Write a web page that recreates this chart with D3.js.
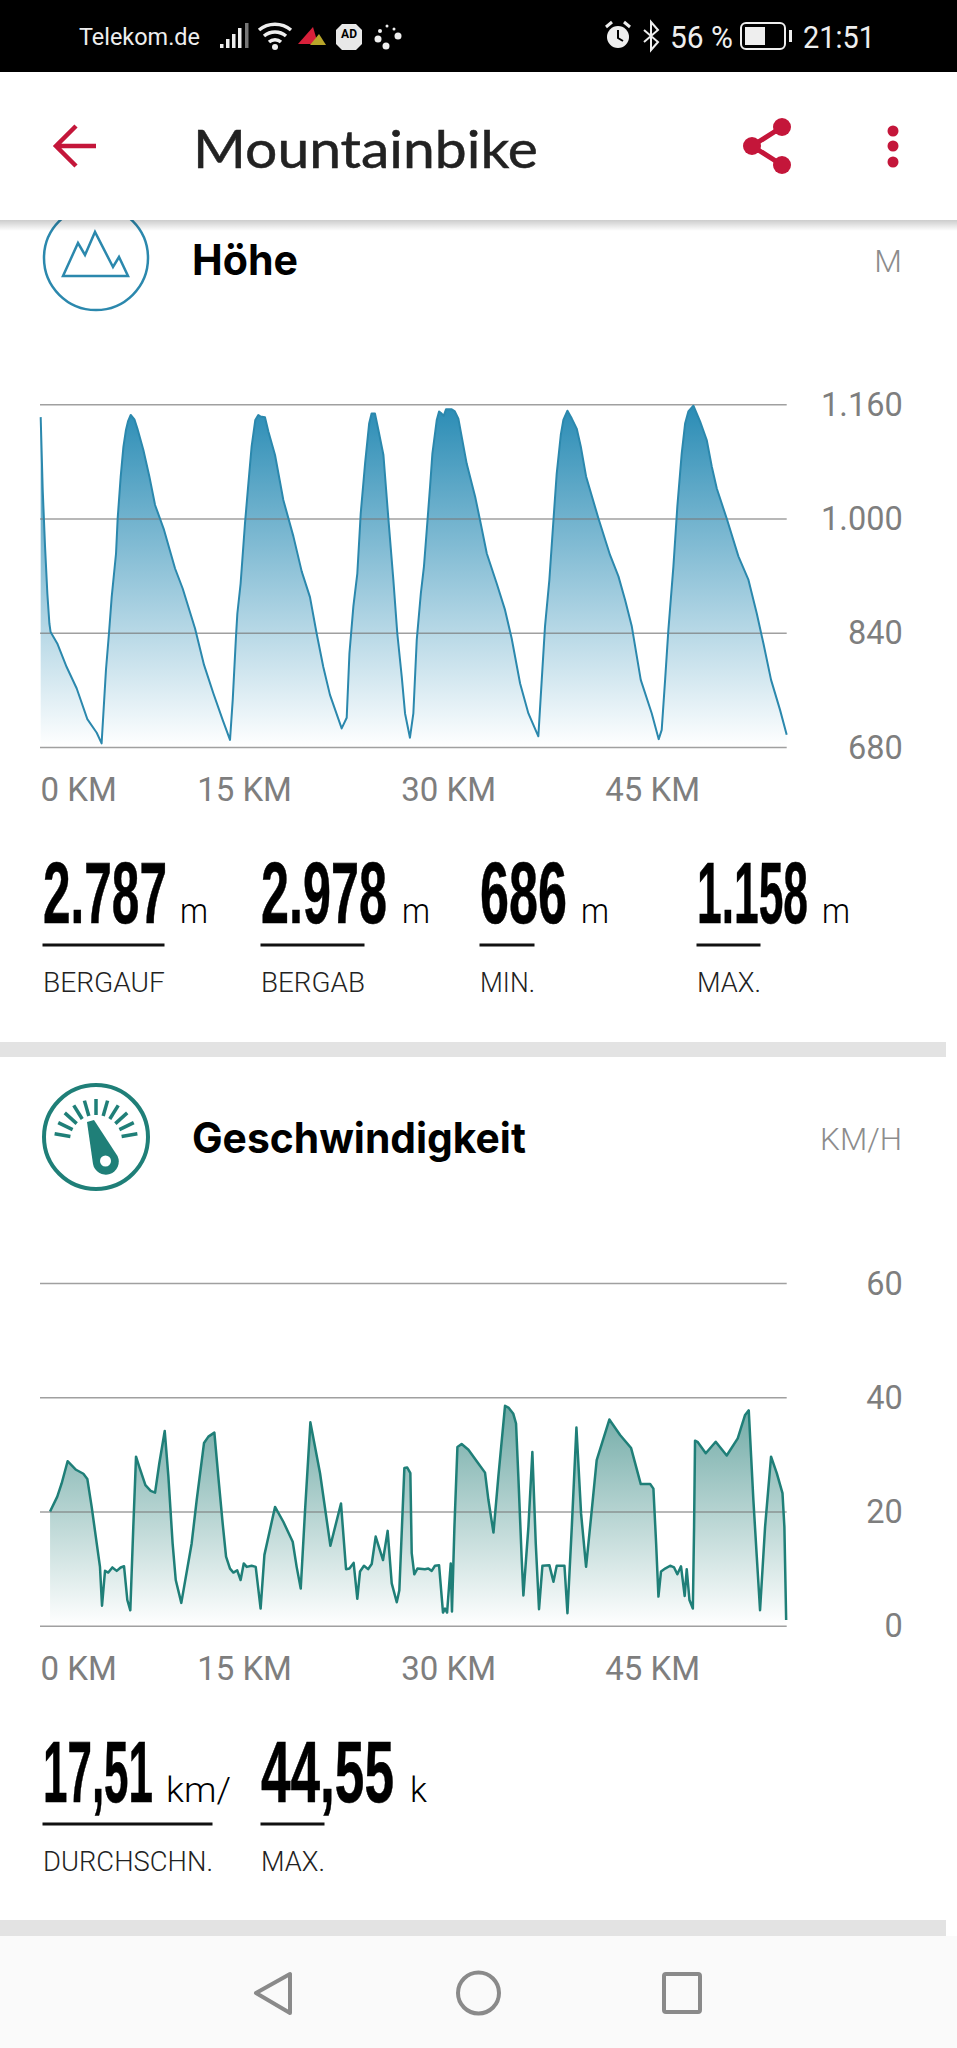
<!DOCTYPE html>
<html>
<head>
<meta charset="utf-8">
<script src="https://cdn.jsdelivr.net/npm/d3@7"></script>
<style>
body { margin: 0; background: #fff; }
svg { display: block; }
</style>
</head>
<body>
<svg width="957" height="2048"></svg>
<script>
// elevation profile
var altKm = [0.05,0.2,0.37,0.54,0.69,0.78,1.27,1.96,2.7,3.48,4.17,4.53,4.85,5.07,5.27,5.59,5.71,5.93,6.13,6.32,6.47,6.67,6.94,7.16,7.6,8.04,8.46,9.12,9.93,10.49,11.4,12.06,12.75,13.43,13.97,14.17,14.41,14.51,14.75,15.07,15.32,15.56,15.83,16.05,16.2,16.54,16.79,17.28,17.89,18.63,19.24,19.85,20.34,20.83,21.32,22.18,22.55,22.75,23.04,23.33,23.58,23.9,24.2,24.38,24.63,24.88,25.25,25.6,25.98,26.27,26.6,26.84,27.2,27.45,27.7,28,28.23,28.5,28.68,28.85,29.17,29.34,29.53,29.68,29.85,30.27,30.5,30.76,31.37,31.99,32.35,32.85,33.58,34.19,34.68,35.3,35.91,36.64,36.89,37.13,37.45,37.7,37.99,38.29,38.48,38.78,39.1,39.46,39.76,40.15,41.06,41.91,42.53,43.02,43.51,44.17,44.98,45.49,45.71,45.96,46.2,46.57,46.86,47.18,47.43,47.67,48.04,48.53,49.02,49.39,49.76,50.49,51.35,52.09,52.7,53.19,53.75,54.41,54.9];
var altM = [1142,1040,961,895,853,841,825,792,762,719,700,685,788,839,890,951,1000,1058,1100,1124,1136,1145,1139,1126,1096,1059,1019,984,930,902,846,795,755,718,690,746,835,867,909,993,1049,1101,1138,1145,1143,1142,1122,1089,1026,975,926,890,839,792,753,706,721,811,877,923,1007,1077,1133,1147,1147,1124,1089,1003,914,839,778,727,693,727,830,895,933,1000,1045,1091,1138,1150,1147,1144,1153,1153,1150,1140,1077,1031,998,951,909,872,832,769,727,695,774,849,914,984,1063,1117,1138,1151,1140,1126,1101,1059,1000,949,919,886,849,774,727,691,704,774,844,933,1017,1091,1133,1150,1158,1136,1110,1073,1042,1000,947,914,867,825,774,732,697];
var altTicks = [680,840,1000,1160];
var altTickLabels = ['680','840','1.000','1.160'];

// speed profile
var speedKm = [0.74,1.27,1.59,2.03,2.65,3.19,3.48,3.8,4.17,4.41,4.56,4.78,5.02,5.32,5.64,5.93,6.18,6.42,6.64,6.86,7.06,7.3,7.75,8.14,8.46,8.77,9.17,9.44,9.75,9.98,10.39,11.15,11.52,12.06,12.38,12.82,13.11,13.43,13.68,13.97,14.22,14.5,14.75,14.98,15.2,15.56,15.86,16.22,16.5,17.28,17.89,18.58,18.87,19.17,19.49,19.88,20.59,21.35,22.13,22.5,22.75,23.06,23.33,23.53,23.82,24.12,24.39,24.68,25.22,25.56,25.86,26.23,26.42,26.79,27,27.23,27.33,27.52,27.75,28.3,28.55,28.8,29.04,29.34,29.63,29.78,29.93,30.2,30.29,30.47,30.69,31,31.5,32.23,32.72,32.97,33.34,33.7,34.19,34.44,34.8,35,35.17,35.42,35.54,35.91,36.2,36.45,36.69,36.94,37.45,37.75,37.99,38.56,38.78,39.1,39.44,39.78,40.15,40.57,40.93,41.86,42.65,43.46,44.17,44.86,45.1,45.3,45.47,45.66,45.96,46.33,46.62,46.86,47.13,47.4,47.55,47.75,48,48.09,48.16,48.34,48.95,49.68,50.49,51.3,51.84,52.11,52.45,52.7,52.94,53.31,53.75,54.17,54.59,54.73,54.86];
var speedVal = [20,22.6,24.9,28.8,27.3,26.6,25.7,20.8,14.4,10.3,3.5,9.6,9.3,10.2,9.6,10.2,10.4,4.5,2.7,17.3,29.6,27.8,24.6,23.6,23.3,28.4,34.1,26.1,14.4,8,4,14.4,22,32,33.1,33.8,26.1,17.9,12.1,10,9.3,9.7,8,10.9,10.3,10.5,10.3,3,12.4,20.8,18.2,14.7,10.3,6.5,20.3,35.6,26.7,14,21.4,9.9,10,11,4.7,9.5,10.5,9.9,10.8,15.6,11.5,16.6,7.4,4.1,6.2,27.6,27.7,26.7,12.7,9,10,9.9,10,9.6,10.5,10.6,2.3,3,2.3,10.9,2.5,17.3,31.3,31.8,30.8,28.4,26.8,22,16.3,26.1,38.5,38.2,37.1,35.4,26.1,11.5,5.3,17.3,30.4,14.4,2.9,10.5,10.6,7.7,10.5,10.5,2.2,17.3,34.7,19.7,10.3,20.3,29,36.1,33.4,31.1,24.8,24.8,24,14.4,5.1,9.5,10,10.5,10.2,9,10.4,5.2,9.9,4.5,3,17.3,32.4,32.2,30.2,32.2,29.8,32.8,36.9,37.7,22,12.1,2.7,17.3,29.6,26.7,23.2,17.3,1];
var speedTicks = [0,20,40,60];

var kmTicks = [0,15,30,45];
var totalKm = 54.9;

var altStats = ['2.787','2.978','686','1.158'];
var altStatLabels = ['BERGAUF','BERGAB','MIN.','MAX.'];
var speedStats = ['17,51','44,55'];
var speedStatLabels = ['DURCHSCHN.','MAX.'];

var red = '#c4163a';
var blue = '#2b88ad';
var teal = '#1f7f78';
var grey = '#7e7e7e';

var svg = d3.select('svg');

// text helper, w squeezes the text to the measured width
function label(parent, x, y, str, size, opts) {
    opts = opts || {};
    var t = parent.append('text')
        .attr('transform', 'translate(' + x + ',' + y + ')')
        .attr('font-size', size)
        .attr('font-family', opts.font || 'Roboto, sans-serif')
        .attr('font-weight', opts.weight || 400)
        .attr('fill', opts.fill || '#000')
        .attr('text-anchor', opts.anchor || 'start')
        .text(str);
    if (opts.w) {
        var sx = opts.w / t.node().getComputedTextLength();
        t.attr('transform', 'translate(' + x + ',' + y + ') scale(' + sx + ',1)');
    }
    if (opts.stroke) t.attr('stroke', opts.fill || '#000').attr('stroke-width', opts.stroke);
    return t;
}

var x = d3.scaleLinear().domain([0, totalKm]).range([40, 786.7]);

function drawChart(id, kms, vals, domain, range, ticks, tickFormat, color, topColor, lineW) {
    var y = d3.scaleLinear().domain(domain).range(range);
    var data = d3.zip(kms, vals);

    var grad = svg.append('defs').append('linearGradient')
        .attr('id', id)
        .attr('gradientUnits', 'userSpaceOnUse')
        .attr('x1', 0).attr('x2', 0)
        .attr('y1', y(d3.max(vals))).attr('y2', range[0]);
    grad.append('stop').attr('offset', 0).attr('stop-color', topColor);
    grad.append('stop').attr('offset', 1).attr('stop-color', '#fff');

    var area = d3.area()
        .x(function(d) { return x(d[0]); })
        .y0(range[0])
        .y1(function(d) { return y(d[1]); });
    var line = d3.line()
        .x(function(d) { return x(d[0]); })
        .y(function(d) { return y(d[1]); });

    svg.append('path').datum(data).attr('d', area).attr('fill', 'url(#' + id + ')');

    // gridlines and right hand labels
    var yAxis = svg.append('g')
        .attr('transform', 'translate(' + x.range()[1] + ',0)')
        .call(d3.axisRight(y).tickValues(ticks).tickSize(-(x.range()[1] - x.range()[0])).tickFormat(tickFormat));
    yAxis.select('.domain').remove();
    yAxis.selectAll('line').attr('stroke', '#777').attr('stroke-opacity', 0.7).attr('stroke-width', 1.5);
    yAxis.selectAll('text')
        .attr('x', 116).attr('dy', '0.34em')
        .attr('text-anchor', 'end')
        .attr('font-family', 'Roboto, sans-serif')
        .attr('font-size', 32.5)
        .attr('fill', grey);

    svg.append('path').datum(data).attr('d', line)
        .attr('fill', 'none').attr('stroke', color).attr('stroke-width', lineW).attr('stroke-linejoin', 'round');

    // km labels under the plot
    var xAxis = svg.append('g')
        .attr('transform', 'translate(0,' + range[0] + ')')
        .call(d3.axisBottom(x).tickValues(kmTicks).tickSize(0).tickFormat(function(d) { return d + ' KM'; }));
    xAxis.select('.domain').remove();
    xAxis.selectAll('text')
        .attr('y', 54).attr('dy', 0)
        .attr('font-family', 'Roboto, sans-serif')
        .attr('font-size', 33)
        .attr('fill', grey)
        .attr('text-anchor', function(d) { return d === 0 ? 'start' : 'middle'; });
}

drawChart('altFill', altKm, altM, [680, 1160], [747, 404.3], altTicks,
    function(d) { return altTickLabels[altTicks.indexOf(d)]; }, blue, '#2a8cb5', 2);
drawChart('speedFill', speedKm, speedVal, [0, 60], [1625.7, 1283], speedTicks,
    function(d) { return d; }, teal, '#70aaa6', 2.5);

// stat blocks
var numFont = '"Liberation Sans Narrow", "Liberation Sans", sans-serif';
var altX = [43, 261, 480, 697];
var altW = [124, 126, 87, 111];
var altUnitX = [180, 402, 581, 822];
var altLabelW = [122, 104, 55, 64];
altStats.forEach(function(s, i) {
    label(svg, altX[i], 923, s, 87, {font: numFont, weight: 700, w: altW[i], stroke: 0.6});
    label(svg, altUnitX[i], 923, 'm', 35, {w: 28, weight: 300});
    svg.append('rect').attr('x', altX[i] - 0.5).attr('y', 943.5).attr('width', altLabelW[i]).attr('height', 3).attr('fill', '#111');
    label(svg, altX[i], 992, altStatLabels[i], 27, {w: altLabelW[i], fill: '#222', weight: 300});
});

var speedX = [43, 261];
var speedW = [110, 133];
var speedLabelW = [170, 64];
var speedUnits = ['km/', 'k'];
var speedUnitX = [166, 410];
var speedUnitW = [65, 17];
speedStats.forEach(function(s, i) {
    label(svg, speedX[i], 1802, s, 87, {font: numFont, weight: 700, w: speedW[i], stroke: 0.6});
    label(svg, speedUnitX[i], 1802, speedUnits[i], 35, {w: speedUnitW[i], weight: 300});
    svg.append('rect').attr('x', speedX[i] - 0.5).attr('y', 1822.5).attr('width', speedLabelW[i]).attr('height', 3).attr('fill', '#111');
    label(svg, speedX[i], 1871, speedStatLabels[i], 27, {w: speedLabelW[i], fill: '#222', weight: 300});
});

// grey section bands
svg.append('rect').attr('x', 0).attr('y', 1042).attr('width', 946).attr('height', 15).attr('fill', '#e3e3e3');
svg.append('rect').attr('x', 0).attr('y', 1920).attr('width', 946).attr('height', 16).attr('fill', '#e3e3e3');

// Hoehe section head
svg.append('circle').attr('cx', 96).attr('cy', 258).attr('r', 52)
    .attr('fill', 'none').attr('stroke', blue).attr('stroke-width', 2.5);
svg.append('path')
    .attr('d', 'M63 276 L78 243 L85 255 L95 232 L113 267 L119 257 L128 276 Z')
    .attr('fill', 'none').attr('stroke', blue).attr('stroke-width', 2.5);
label(svg, 192, 275, 'Höhe', 42, {font: 'Inter, sans-serif', weight: 700, w: 106});
label(svg, 902, 272, 'M', 32, {anchor: 'end', fill: '#8c8c8c', weight: 300});

// speed section head
svg.append('circle').attr('cx', 96).attr('cy', 1137).attr('r', 52)
    .attr('fill', 'none').attr('stroke', teal).attr('stroke-width', 4);
d3.range(-80, 81, 16).forEach(function(a) {
    var r = a * Math.PI / 180;
    svg.append('line')
        .attr('x1', 96 + 26 * Math.sin(r)).attr('y1', 1141 - 26 * Math.cos(r))
        .attr('x2', 96 + 42 * Math.sin(r)).attr('y2', 1141 - 42 * Math.cos(r))
        .attr('stroke', teal).attr('stroke-width', 3.5);
});
svg.append('path').attr('d', 'M87 1122 L94 1120 L117.5 1156 A13 13 0 1 1 93 1164 Z').attr('fill', teal);
svg.append('circle').attr('cx', 105.5).attr('cy', 1161).attr('r', 5.5).attr('fill', '#fff');
label(svg, 192, 1153, 'Geschwindigkeit', 42, {font: 'Inter, sans-serif', weight: 700, w: 334});
label(svg, 902, 1150, 'KM/H', 32, {anchor: 'end', fill: '#8c8c8c', w: 82, weight: 300});

// app bar sits on top of the scrolled content
svg.append('rect').attr('x', 0).attr('y', 72).attr('width', 957).attr('height', 148).attr('fill', '#fff');
var shadow = svg.append('defs').append('linearGradient').attr('id', 'shadow')
    .attr('x1', 0).attr('x2', 0).attr('y1', 0).attr('y2', 1);
shadow.append('stop').attr('offset', 0).attr('stop-color', '#000').attr('stop-opacity', 0.2);
shadow.append('stop').attr('offset', 1).attr('stop-color', '#000').attr('stop-opacity', 0);
svg.append('rect').attr('x', 0).attr('y', 220).attr('width', 957).attr('height', 11).attr('fill', 'url(#shadow)');

svg.append('path').attr('d', 'M96 146 H56 M76 126 L56 146 L76 166')
    .attr('fill', 'none').attr('stroke', red).attr('stroke-width', 4.5);
label(svg, 193, 168, 'Mountainbike', 52, {font: 'Lato, sans-serif', fill: '#222', w: 345, stroke: 0.5});
svg.append('path').attr('d', 'M782 127 L752 146 L782 165').attr('fill', 'none').attr('stroke', red).attr('stroke-width', 5);
[[782, 127], [752, 146], [782, 165]].forEach(function(p) {
    svg.append('circle').attr('cx', p[0]).attr('cy', p[1]).attr('r', 9).attr('fill', red);
});
[131, 146, 162].forEach(function(cy) {
    svg.append('circle').attr('cx', 893).attr('cy', cy).attr('r', 5.5).attr('fill', red);
});

// status bar
svg.append('rect').attr('x', 0).attr('y', 0).attr('width', 957).attr('height', 72).attr('fill', '#000');
label(svg, 79, 45, 'Telekom.de', 24, {fill: '#eee', w: 121});
[[220, 44], [226, 39], [232, 34], [238, 28], [245, 23]].forEach(function(b) {
    svg.append('rect').attr('x', b[0]).attr('y', b[1]).attr('width', 3.5).attr('height', 48 - b[1]).attr('fill', b[0] === 245 ? '#777' : '#eee');
});
svg.append('path').attr('d', 'M259 30 A25 25 0 0 1 291 30 M264 36 A17 17 0 0 1 286 36 M269 42 A9 9 0 0 1 281 42')
    .attr('fill', 'none').attr('stroke', '#eee').attr('stroke-width', 3.5);
svg.append('circle').attr('cx', 275).attr('cy', 47).attr('r', 3).attr('fill', '#eee');
svg.append('path').attr('d', 'M298 44 L313 27 L318 44 Z').attr('fill', '#d8203a');
svg.append('path').attr('d', 'M310 45 L319 34 L326 45 Z').attr('fill', '#b8a52a');
svg.append('path').attr('d', 'M342 24 H356 L362 30 V44 L356 50 H342 L336 44 V30 Z').attr('fill', '#e8e8e8');
label(svg, 349, 38, 'AD', 12, {anchor: 'middle', weight: 700});
[[387, 26, 1.5], [394, 29, 1.5], [380, 31, 2], [378, 39, 3.5], [398, 36, 3.5], [386, 46, 3.5]].forEach(function(d) {
    svg.append('circle').attr('cx', d[0]).attr('cy', d[1]).attr('r', d[2]).attr('fill', '#eee');
});
svg.append('circle').attr('cx', 618).attr('cy', 37).attr('r', 11).attr('fill', '#eee');
svg.append('path').attr('d', 'M618 30 V38 L623 41').attr('fill', 'none').attr('stroke', '#000').attr('stroke-width', 2);
svg.append('path').attr('d', 'M606 27 L612 22 M630 27 L624 22').attr('stroke', '#eee').attr('stroke-width', 3);
svg.append('path').attr('d', 'M644 30 L658 42 L651 50 V22 L658 30 L644 42')
    .attr('fill', 'none').attr('stroke', '#eee').attr('stroke-width', 2);
label(svg, 670, 48, '56 %', 32, {fill: '#eee', w: 63});
svg.append('rect').attr('x', 741).attr('y', 23).attr('width', 44).attr('height', 26).attr('rx', 5)
    .attr('fill', 'none').attr('stroke', '#eee').attr('stroke-width', 2);
svg.append('rect').attr('x', 745).attr('y', 27).attr('width', 20).attr('height', 18).attr('fill', '#eee');
svg.append('rect').attr('x', 789).attr('y', 30).attr('width', 3).attr('height', 12).attr('fill', '#eee');
label(svg, 803, 48, '21:51', 32, {fill: '#eee', w: 72});

// navigation bar
svg.append('rect').attr('x', 0).attr('y', 1936).attr('width', 957).attr('height', 112).attr('fill', '#fafafa');
svg.append('path').attr('d', 'M290 1974 V2013 L256 1993 Z')
    .attr('fill', 'none').attr('stroke', '#8a8a8a').attr('stroke-width', 4).attr('stroke-linejoin', 'round');
svg.append('circle').attr('cx', 478.5).attr('cy', 1993).attr('r', 20.5)
    .attr('fill', 'none').attr('stroke', '#8a8a8a').attr('stroke-width', 4);
svg.append('rect').attr('x', 664).attr('y', 1974).attr('width', 36).attr('height', 38).attr('rx', 2)
    .attr('fill', 'none').attr('stroke', '#8a8a8a').attr('stroke-width', 4);
</script>
</body>
</html>
